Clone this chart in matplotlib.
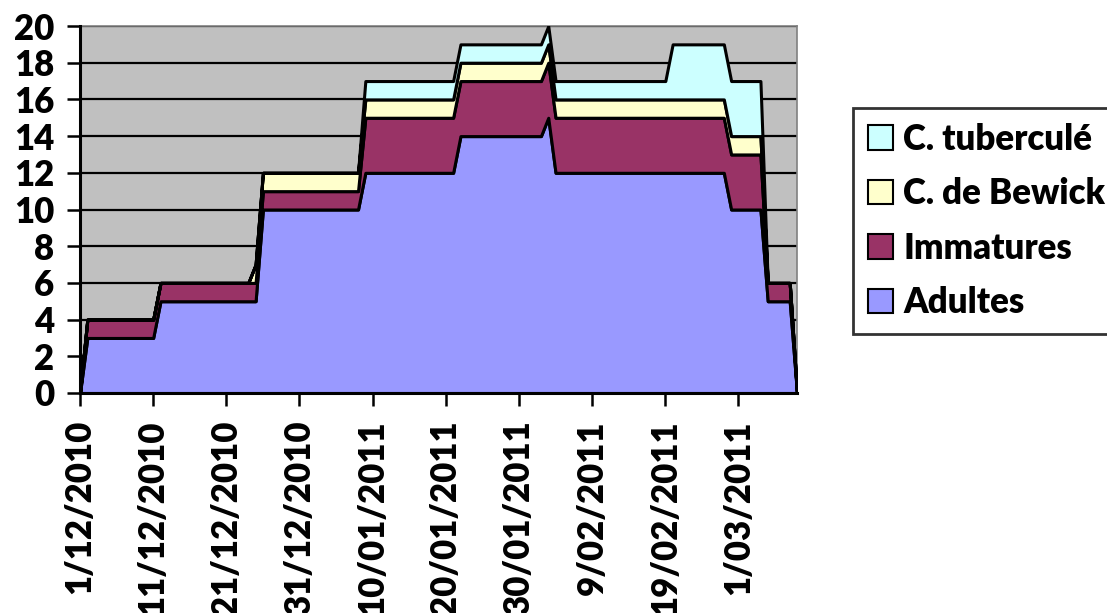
import datetime as dt
import matplotlib
matplotlib.use("Agg")
import matplotlib.pyplot as plt

# ---- data ----
dates = ["2010-12-01", "2010-12-02", "2010-12-11", "2010-12-12", "2010-12-24",
         "2010-12-25", "2010-12-26", "2011-01-08", "2011-01-09", "2011-01-21",
         "2011-01-22", "2011-02-02", "2011-02-03", "2011-02-04", "2011-02-19",
         "2011-02-20", "2011-02-27", "2011-02-28", "2011-03-04", "2011-03-05",
         "2011-03-08", "2011-03-09"]
adultes    = [0, 3, 3, 5, 5, 5, 10, 10, 12, 12, 14, 14, 15, 12, 12, 12, 12, 10, 10, 5, 5, 0]
immatures  = [0, 1, 1, 1, 1, 1, 1, 1, 3, 3, 3, 3, 3, 3, 3, 3, 3, 3, 3, 1, 1, 0]
bewick     = [0, 0, 0, 0, 0, 1, 1, 1, 1, 1, 1, 1, 1, 1, 1, 1, 1, 1, 1, 0, 0, 0]
tubercule  = [0, 0, 0, 0, 0, 0, 0, 0, 1, 1, 1, 1, 1, 1, 1, 3, 3, 3, 3, 0, 0, 0]
series_names = ["Adultes", "Immatures", "C. de Bewick", "C. tuberculé"]
tick_dates = ["2010-12-01", "2010-12-11", "2010-12-21", "2010-12-31", "2011-01-10",
              "2011-01-20", "2011-01-30", "2011-02-09", "2011-02-19", "2011-03-01"]
tick_labels = ["1/12/2010", "11/12/2010", "21/12/2010", "31/12/2010", "10/01/2011",
               "20/01/2011", "30/01/2011", "9/02/2011", "19/02/2011", "1/03/2011"]
y_ticks = [0, 2, 4, 6, 8, 10, 12, 14, 16, 18, 20]

colors = ["#9999FF", "#993366", "#FFFFCC", "#CCFFFF"]

FAM = ['Lato', 'DejaVu Sans']
plt.rcParams['font.family'] = FAM
FS = 25
W = 'heavy'

x = [dt.datetime.strptime(d, "%Y-%m-%d") for d in dates]
xt = [dt.datetime.strptime(d, "%Y-%m-%d") for d in tick_dates]

fig = plt.figure(figsize=(11.07, 6.13), dpi=100)
ax = fig.add_axes([80/1107, 1-393/613, (797-80)/1107, (393-26)/613])
ax.set_facecolor("#C0C0C0")

ax.stackplot(x, adultes, immatures, bewick, tubercule, colors=colors,
             labels=series_names, edgecolor="black", linewidth=2.2, zorder=3)

ax.set_xlim(x[0], x[-1])
ax.set_ylim(0, 20)
ax.set_yticks(y_ticks)
ax.set_yticklabels([str(v) for v in y_ticks], fontsize=FS, fontweight=W)
ax.set_xticks(xt)
ax.set_xticklabels(tick_labels, rotation=90, fontsize=FS, fontweight=W,
                   ha='center', va='top')
ax.grid(axis='y', color='black', linewidth=1.6, zorder=1)
ax.set_axisbelow(True)
ax.tick_params(axis='both', direction='out', length=9.5, width=1.8, color='black')
ax.tick_params(axis='y', pad=9)
ax.tick_params(axis='x', pad=10)
for s in ['left', 'bottom']:
    ax.spines[s].set_color('black')
    ax.spines[s].set_linewidth(2.2)
    ax.spines[s].set_zorder(5)
for s in ['top', 'right']:
    ax.spines[s].set_color('#808080')
    ax.spines[s].set_linewidth(1.2)

handles, labels = ax.get_legend_handles_labels()
leg = fig.legend(handles[::-1], labels[::-1], loc='upper left',
                 bbox_to_anchor=(853/1107, 1-108/613), frameon=True, fancybox=False,
                 edgecolor='black', prop={'family': FAM, 'weight': W, 'size': FS},
                 handlelength=0.72, handleheight=0.72, handletextpad=0.3,
                 labelspacing=0.62, borderpad=0.42, borderaxespad=0)
leg.get_frame().set_linewidth(2)
for h in leg.legend_handles:
    h.set_edgecolor('black')
    h.set_linewidth(1.5)

fig.savefig("out.png", dpi=100)
